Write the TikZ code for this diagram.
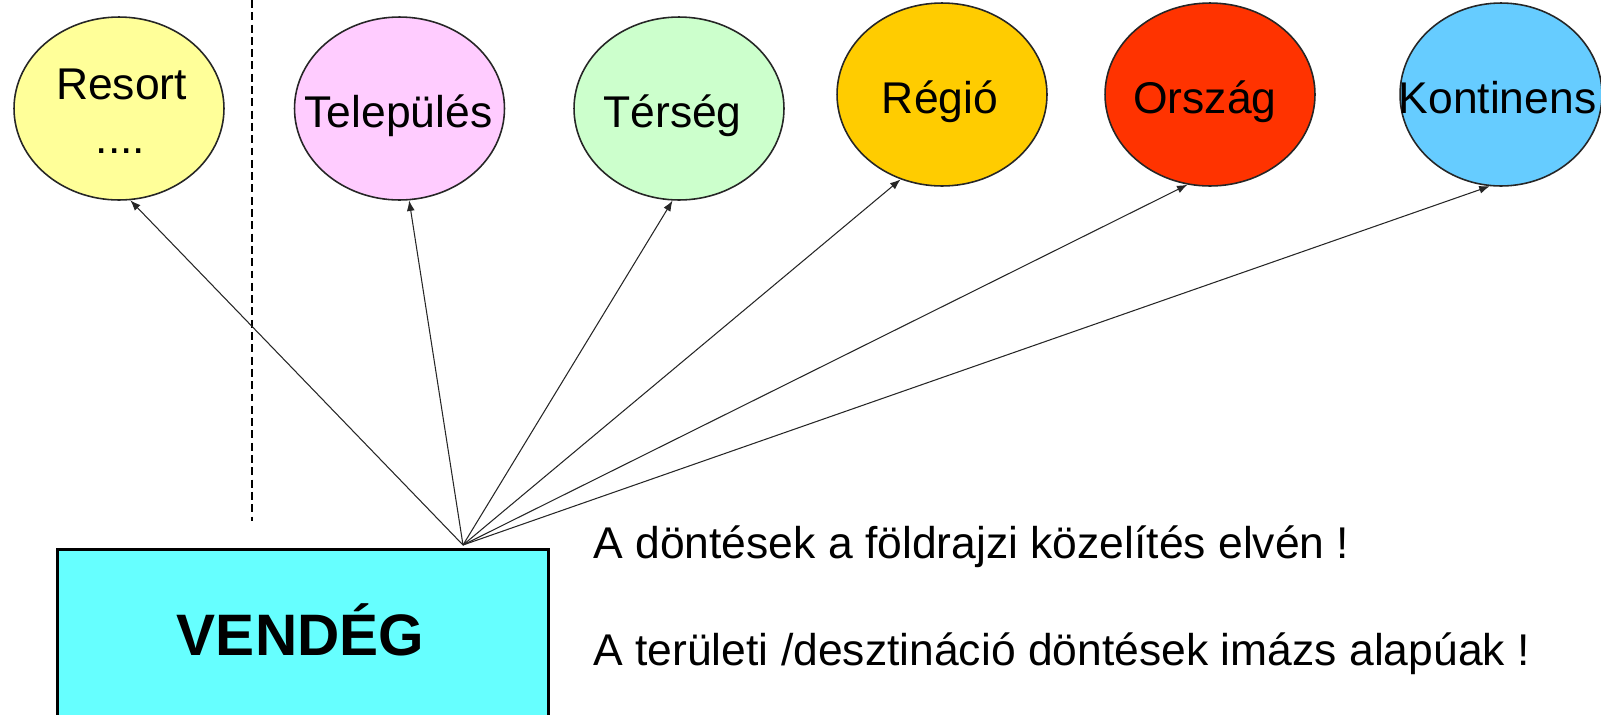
\documentclass[tikz,border=0pt]{standalone}
\usepackage{fontspec}
\setmainfont{Liberation Sans}
\usetikzlibrary{shapes.geometric,arrows.meta}
\definecolor{cResort}{HTML}{FFFF99}
\definecolor{cTel}{HTML}{FFCCFF}
\definecolor{cTer}{HTML}{CCFFCC}
\definecolor{cReg}{HTML}{FFCC00}
\definecolor{cOrs}{HTML}{FF3300}
\definecolor{cKon}{HTML}{66CCFF}
\definecolor{cBox}{HTML}{66FFFF}
\begin{document}
\begin{tikzpicture}[x=0.02cm,y=-0.02cm,
  bubble/.style={ellipse, draw=black!85, line width=0.9pt, minimum width=4.2cm, minimum height=3.66cm, inner sep=0pt},
  lbl/.style={anchor=base, inner sep=0pt, font=\fontsize{25.3}{30}\selectfont},
  ray/.style={-{Latex[length=6pt,width=4.5pt]}, line width=0.6pt, black!85},
  divider/.style={line width=1.2pt, dash pattern=on 4.5pt off 2.5pt}]
\useasboundingbox (0,0) rectangle (1601,714);
\clip (0,0) rectangle (1601,714);
% bubbles
\node[bubble, fill=cResort] (resort) at (119,108.5) {};
\node[bubble, fill=cTel] (tel) at (399.5,108.5) {};
\node[bubble, fill=cTer] (ter) at (679,108.5) {};
\node[bubble, fill=cReg] (reg) at (942,94.5) {};
\node[bubble, fill=cOrs] (ors) at (1210,94.5) {};
\node[bubble, fill=cKon, minimum width=4.04cm] (kon) at (1501,94.5) {};
% labels
\node[lbl] (tResort) at (121.5,99) {Resort};
\node[lbl] (tDots) at (120.5,153) {....};
\node[lbl] (tTel) at (398.5,127) {Település};
\node[lbl] (tTer) at (672.5,127) {Térség};
\node[lbl] (tReg) at (940,113) {Régió};
\node[lbl] (tOrs) at (1205,113) {Ország};
\node[lbl] (tKon) at (1497.5,113) {Kontinens};
% divider
\coordinate (dTop) at (252,0);
\coordinate (dBot) at (252,521);
\draw[divider] (dTop) -- (dBot);
% box
\node[draw, line width=1.5pt, fill=cBox, minimum width=9.82cm, minimum height=3.8cm, anchor=north west, inner sep=0pt] (vendeg) at (56,548) {};
\node[anchor=base, inner sep=0pt, font=\fontsize{33.3}{40}\selectfont\bfseries] (tV) at (300.5,655) {VENDÉG};
% side texts
\node[lbl, anchor=base west] (line1) at (593,558) {A döntések a földrajzi közelítés elvén !};
\node[lbl, anchor=base west] (line2) at (593,665) {A területi /desztináció döntések imázs alapúak !};
% rays
\coordinate (o) at (463,545);
\draw[ray] (o) -- (resort.-83);
\draw[ray] (o) -- (tel.-84);
\draw[ray] (o) -- (ter.-94);
\draw[ray] (o) -- (reg.-116);
\draw[ray] (o) -- (ors.-104);
\draw[ray] (o) -- (kon.-97);
\end{tikzpicture}
\end{document}
